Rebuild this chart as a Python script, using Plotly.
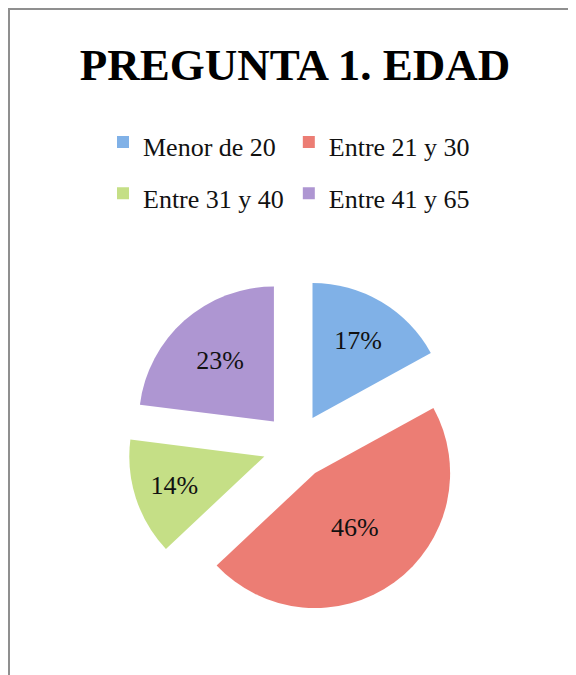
import plotly.graph_objects as go

# ---- data ----
categories = ["Menor de 20", "Entre 21 y 30", "Entre 31 y 40", "Entre 41 y 65"]
values = [17, 46, 14, 23]
colors = ["#80b1e7", "#ec7d74", "#c5df86", "#ae96d2"]
title_text = "PREGUNTA 1. EDAD"

# ---- layout helpers (page pixel -> paper) ----
W, H = 576, 675
OFF = 8  # page body margin
ML, MR, MT, MB = 60, 60, 0, 0
PW = W - ML - MR
PH = H - MT - MB


def px_x(px):
    return (px - OFF - ML) / PW


def px_y(py):
    return 1 - (py - OFF - MT) / PH


cx, cy, half = 295.7, 446.3, 168
legend_labels = [f'<span style="font-size:26px">{c}</span>' for c in categories]

fig = go.Figure(
    go.Pie(
        labels=legend_labels,
        values=values,
        sort=False,
        direction="clockwise",
        rotation=0,
        pull=[0.244] * len(values),
        marker=dict(colors=colors, line=dict(width=0)),
        textinfo="percent",
        textposition="inside",
        insidetextorientation="horizontal",
        textfont=dict(family="Liberation Serif", size=26, color="#111111"),
        domain=dict(x=[px_x(cx - half), px_x(cx + half)],
                    y=[px_y(cy + half), px_y(cy - half)]),
        hoverinfo="label+percent",
    )
)

fig.update_layout(
    width=W,
    height=H,
    margin=dict(l=ML, r=MR, t=MT, b=MB),
    paper_bgcolor="white",
    plot_bgcolor="white",
    title=dict(
        text=f"<b>{title_text}</b>",
        x=(295 - OFF) / W,
        xref="container",
        xanchor="center",
        y=1 - (64 - OFF) / H,
        yref="container",
        yanchor="middle",
        font=dict(family="Liberation Serif", size=45, color="#000000"),
    ),
    legend=dict(
        orientation="h",
        x=px_x(103),
        xanchor="left",
        y=px_y(111.5),
        yanchor="top",
        font=dict(family="Liberation Serif", size=37, color="#111111"),
        bgcolor="rgba(0,0,0,0)",
        traceorder="normal",
    ),
    shapes=[
        dict(
            type="rect",
            xref="paper",
            yref="paper",
            x0=px_x(9),
            x1=px_x(620),
            y0=px_y(720),
            y1=px_y(9),
            line=dict(color="#8f8f8f", width=2),
            fillcolor="rgba(0,0,0,0)",
            layer="below",
        )
    ],
)

fig.write_html("out.html")
